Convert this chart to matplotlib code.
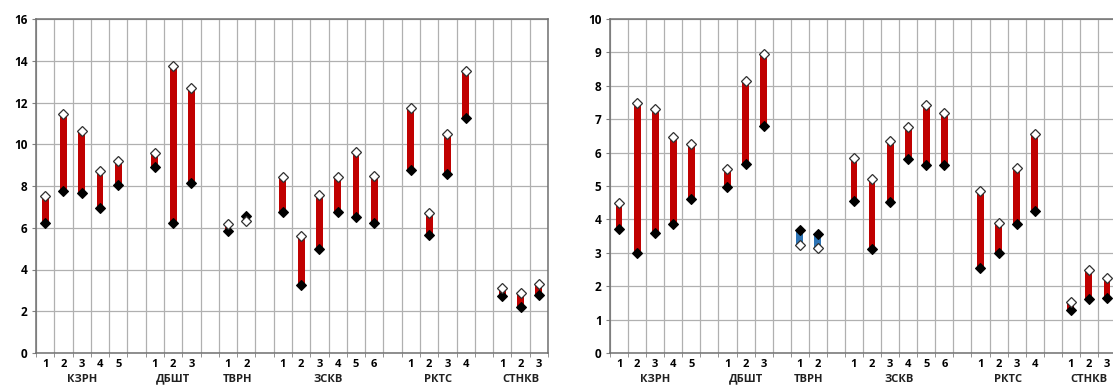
import numpy as np
import matplotlib.pyplot as plt

plt.rcParams['font.family'] = ['Open Sans', 'DejaVu Sans']
plt.rcParams['font.weight'] = 'bold'

groups = ['КЗРН', 'ДБШТ', 'ТВРН', 'ЗСКВ', 'РКТС', 'СТНКВ']
group_sizes = [5, 3, 2, 6, 4, 3]

# left panel: white (open) and black (filled) marker values per item
left_white = [7.50, 11.46, 10.64, 8.70, 9.22,
              9.60, 13.75, 12.68,
              6.17, 6.33,
              8.45, 5.62, 7.57, 8.45, 9.64, 8.48,
              11.75, 6.70, 10.48, 13.49,
              3.10, 2.88, 3.30]
left_black = [6.24, 7.76, 7.65, 6.97, 8.05,
              8.92, 6.24, 8.13,
              5.83, 6.54,
              6.75, 3.26, 4.99, 6.75, 6.52, 6.24,
              8.76, 5.64, 8.57, 11.26,
              2.73, 2.22, 2.76]

# right panel
right_white = [4.48, 7.50, 7.32, 6.48, 6.26,
               5.51, 8.14, 8.96,
               3.24, 3.13,
               5.83, 5.20, 6.35, 6.78, 7.44, 7.20,
               4.84, 3.88, 5.54, 6.57,
               1.54, 2.49, 2.25]
right_black = [3.71, 3.00, 3.60, 3.85, 4.62,
               4.96, 5.65, 6.80,
               3.67, 3.55,
               4.56, 3.11, 4.53, 5.81, 5.63, 5.63,
               2.55, 2.99, 3.85, 4.25,
               1.28, 1.63, 1.65]

RED = '#C00000'
BLUE = '#2E75B6'


def slot_positions():
    xs, labels, centers = [], [], []
    pos = 0
    for g, n in zip(groups, group_sizes):
        start = pos
        for k in range(n):
            xs.append(pos + 0.5)
            labels.append(str(k + 1))
            pos += 1
        centers.append((start + pos) / 2)
        pos += 1  # empty slot between groups
    return np.array(xs), labels, centers, pos - 1


def draw_panel(ax, white, black, ymax, ystep):
    xs, labels, centers, nslots = slot_positions()
    white = np.array(white)
    black = np.array(black)
    lo = np.minimum(white, black)
    hi = np.maximum(white, black)
    colors = [RED if w >= b else BLUE for w, b in zip(white, black)]
    ax.bar(xs, hi - lo, bottom=lo, width=0.38, color=colors, zorder=3)
    ax.plot(xs, black, linestyle='none', marker='D', ms=5.5, mfc='black',
            mec='black', mew=0.8, zorder=4)
    ax.plot(xs, white, linestyle='none', marker='D', ms=5.5, mfc='white',
            mec='#303030', mew=0.9, zorder=5)

    ax.set_xlim(0, nslots)
    ax.set_ylim(0, ymax)
    ax.set_yticks(np.arange(0, ymax + 0.01, ystep))
    ax.set_xticks(xs)
    ax.set_xticklabels(labels)
    ax.set_xticks(np.arange(0, nslots + 1), minor=True)
    ax.tick_params(axis='x', which='major', length=0, pad=4, labelsize=8)
    ax.tick_params(axis='x', which='minor', length=3, color='#808080')
    ax.tick_params(axis='y', length=3, color='#808080', labelsize=8.5, pad=3)
    ax.grid(True, axis='x', which='minor', color='#B0B0B0', lw=0.9)
    ax.grid(True, axis='y', which='major', color='#B0B0B0', lw=0.9)
    ax.set_axisbelow(True)
    for s in ax.spines.values():
        s.set_color('#707070')
        s.set_linewidth(1.1)

    for c, g in zip(centers, groups):
        ax.text(c, -0.078, g, transform=ax.get_xaxis_transform(),
                ha='center', va='center', fontsize=8, fontweight='bold',
                color='#202020')


fig = plt.figure(figsize=(11.13, 3.9), dpi=100)
ax1 = fig.add_axes([36 / 1113, 37 / 390, 512 / 1113, 334 / 390])
ax2 = fig.add_axes([610 / 1113, 37 / 390, 506 / 1113, 334 / 390])

draw_panel(ax1, left_white, left_black, 16, 2)
draw_panel(ax2, right_white, right_black, 10, 1)

fig.savefig('out.png', dpi=100)
